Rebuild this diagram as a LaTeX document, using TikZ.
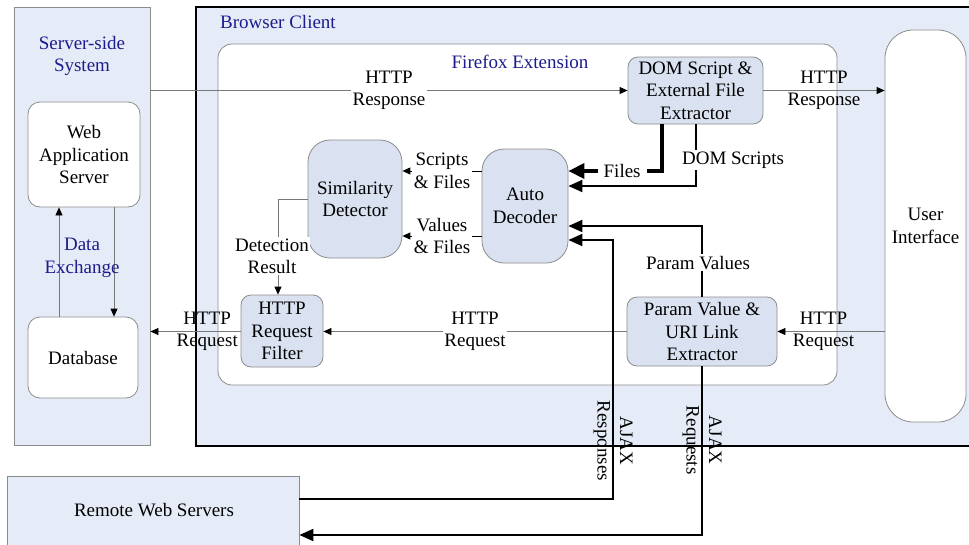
\documentclass[tikz,border=0pt]{standalone}
\usepackage{fontspec}
\setmainfont{Liberation Serif}
\usetikzlibrary{arrows.meta,calc}
\definecolor{bgblue}{RGB}{230,236,247}
\definecolor{nodeblue}{RGB}{218,225,240}
\definecolor{navy}{RGB}{28,28,140}
\definecolor{edgegray}{RGB}{140,140,140}
\definecolor{linegray}{RGB}{120,120,120}
\begin{document}
\begin{tikzpicture}[x=1pt,y=-1pt,
  every node/.style={font=\fontsize{19}{22.5}\selectfont, inner sep=2pt},
  region/.style={draw=edgegray, fill=bgblue, line width=0.8pt, inner sep=0},
  whitebox/.style={draw=edgegray, fill=white, rounded corners=12pt, line width=0.8pt, align=center, inner sep=0},
  procbox/.style={draw=edgegray, fill=nodeblue, rounded corners=10pt, line width=0.8pt, align=center, inner sep=0},
  title/.style={text=navy, align=center},
  lbl/.style={align=center, fill=white, inner sep=1.5pt},
  lblclear/.style={align=center, inner sep=1.5pt},
  thinarr/.style={draw=linegray, line width=0.8pt, -{Triangle[length=8pt,width=7pt,color=black]}},
  blkarr/.style={draw=black, line width=0.9pt, -{Triangle[length=8pt,width=7pt]}},
  medarr/.style={draw=black, line width=2pt, -{Triangle[length=14pt,width=12pt]}},
  fatarr/.style={draw=black, line width=3.5pt, -{Triangle[length=16pt,width=15pt]}}
]
\clip (0,0) rectangle (969,544);
\fill[white] (0,0) rectangle (969,544);

% regions
\node[region, minimum width=136, minimum height=438] (ss) at (82,226) {};
\node[title] (sstitle) at (82,56) {Server-side\\System};
\node[region, draw=black, line width=1.3pt, minimum width=784, minimum height=439] (bc) at (588,226.5) {};
\node[text=navy, anchor=west] (bctitle) at (218,22) {Browser Client};
\node[whitebox, rounded corners=14pt, minimum width=619, minimum height=341] (ff) at (527.5,214.5) {};
\node[title] (fftitle) at (520,62) {Firefox Extension};
\node[whitebox, rounded corners=28pt, minimum width=81, minimum height=392] (ui) at (925.5,226) {User\\Interface};
\node[region, minimum width=292, minimum height=84] (rws) at (153,518) {};
\node (rwstext) at (154,510) {Remote Web Servers};

% server side
\node[whitebox, minimum width=112, minimum height=105] (was) at (84,154.5) {Web\\Application\\Server};
\node[whitebox, minimum width=110, minimum height=81] (db) at (83,357.5) {Database};
\draw[thinarr] (db.north -| 59,0) -- (was.south -| 59,0);
\draw[thinarr] (was.south -| 114,0) -- (db.north -| 114,0);
\node[title] (dx) at (82,258) {Data\\Exchange};

% extension components
\node[procbox, minimum width=135, minimum height=67] (dom) at (695.5,90.5) {DOM Script \&\\External File\\Extractor};
\node[procbox, rounded corners=22pt, minimum width=86, minimum height=114] (ad) at (525,206) {Auto\\Decoder};
\node[procbox, rounded corners=22pt, minimum width=94, minimum height=118] (sd) at (355,199) {Similarity\\Detector};
\node[procbox, minimum width=82, minimum height=72] (hrf) at (282,331) {HTTP\\Request\\Filter};
\node[procbox, minimum width=150, minimum height=69] (pv) at (702,331.5) {Param Value \&\\URI Link\\Extractor};

% HTTP responses
\draw[thinarr] (ss.east |- dom.west) -- (dom.west) node[lbl, midway] {HTTP\\Response};
\draw[thinarr] (dom.east) -- (ui.west |- dom.east) node[lblclear, midway] {HTTP\\Response};

% HTTP requests
\draw[thinarr] (ui.west |- pv.east) -- (pv.east) node[lblclear, pos=0.57] {HTTP\\Request};
\draw[thinarr] (pv.west) -- (hrf.east |- pv.west) node[lbl, midway] {HTTP\\Request};
\draw[thinarr] (hrf.west |- pv.west) -- (ss.east |- pv.west) node[lblclear, pos=0.37] {HTTP\\Request};

% detection result
\draw[thinarr] (sd.west) -| (hrf.north -| 278,0) node[lbl, pos=0.8, xshift=-6] {Detection\\Result};

% auto decoder -> similarity detector
\draw[blkarr] (ad.west |- 0,171) -- (sd.east |- 0,171) node[lbl, midway] {Scripts\\\& Files};
\draw[blkarr] (ad.west |- 0,236) -- (sd.east |- 0,236) node[lbl, midway] {Values\\\& Files};

% DOM extractor -> auto decoder
\draw[fatarr] (dom.south -| 662,0) |- (ad.east |- 0,171) node[lbl, pos=0.713, inner xsep=6pt] {Files};
\draw[medarr] (dom.south -| 696,0) |- (ad.east |- 0,186) node[lbl, pos=0.29, xshift=37] {DOM Scripts};

% param values
\draw[medarr] (pv.north) |- (ad.east |- 0,226) node[lbl, pos=0.24, xshift=-4] {Param Values};

% AJAX
\draw[medarr] (pv.south) |- (rws.east |- 0,535) node[lblclear, pos=0.219, rotate=-90] {AJAX\\Requests};
\draw[medarr] (rws.east |- 0,499) -| (613,240) node[lblclear, pos=0.612, rotate=-90] {AJAX\\Responses} -- (ad.east |- 0,240);
\end{tikzpicture}
\end{document}
